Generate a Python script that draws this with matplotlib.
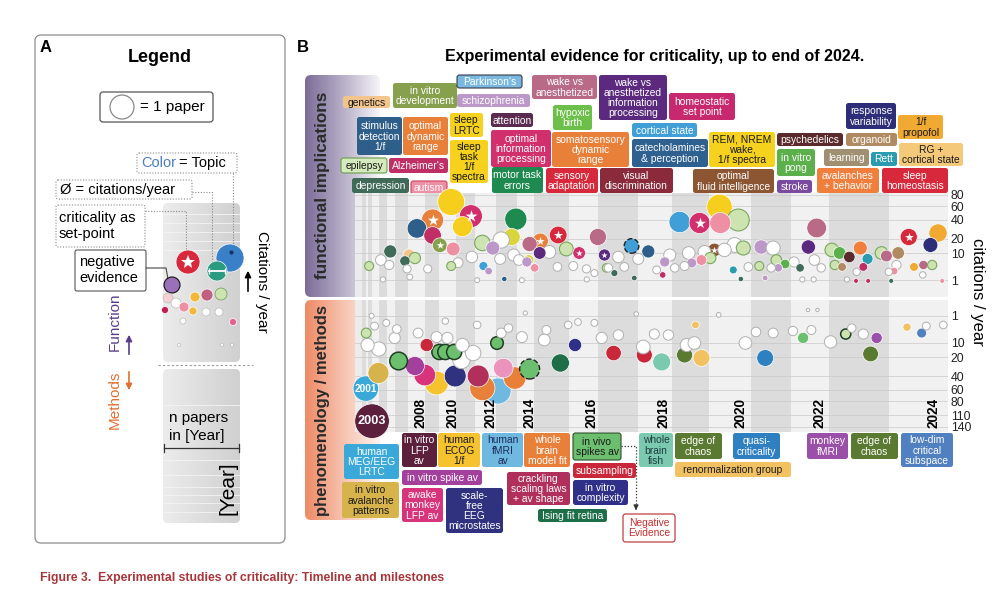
import numpy as np
import matplotlib
matplotlib.use("Agg")
import matplotlib.pyplot as plt
import matplotlib.transforms as mtransforms
from matplotlib.patches import FancyBboxPatch, Circle
from matplotlib.colors import LinearSegmentedColormap

plt.rcParams["font.family"] = ["Liberation Sans", "DejaVu Sans"]

# ---------------- data ----------------
years = list(range(2001, 2025))
# papers per year (sets the width of each year column)
n_papers = [2, 1, 2, 3, 4, 4, 6, 8, 7, 8, 9, 10, 10, 8, 17, 14, 19, 16, 18, 20, 19, 18, 29, 28]

# functional implications: publication date, citations / year, topic
fun_date = [2010.70, 2009.53, 2008.53, 2011.78, 2011.33, 2009.53, 2010.02, 2010.82, 2013.95, 2013.75,
            2006.38, 2008.06, 2008.41, 2007.75, 2003.20, 2012.35, 2012.85, 2014.76, 2015.19, 2015.69,
            2015.17, 2016.98, 2016.34, 2017.15, 2017.83, 2015.92, 2012.40, 2012.65, 2018.30, 2019.21,
            2019.74, 2020.24, 2020.26, 2020.69, 2020.12, 2020.81, 2021.25, 2022.68, 2022.46, 2023.05,
            2023.18, 2023.34, 2023.52, 2023.64, 2023.57, 2023.87, 2023.95, 2024.15, 2024.33, 2024.70,
            2024.83, 2024.42, 2024.58, 2024.73, 2018.79, 2019.53, 2019.79, 2020.02, 2020.57, 2018.73,
            2021.63, 2021.85, 2022.24, 2021.20, 2021.68, 2023.10, 2023.22, 2024.08, 2010.70, 2013.40,
            2015.03, 2014.70, 2014.60, 2017.20, 2017.40, 2017.90, 2020.75, 2021.35, 2023.45, 2023.65,
            2024.03, 2024.90]
fun_cit = [67, 40, 30, 45, 32, 23, 15, 12.5, 41, 21.6,
           11, 9, 7.5, 6.2, 4.3, 16.7, 13.1, 15.9, 18.2, 23.4,
           10.1, 21.6, 10.1, 9, 14.5, 12.5, 4.3, 2.8, 11, 37.4,
           36.2, 58.7, 36.2, 39.9, 11.9, 13.1, 13.8, 30.5, 13.8, 11.9,
           10.1, 8, 13.1, 7.1, 4, 10.1, 8.5, 10.1, 21.6, 15.2,
           25.3, 4, 4.65, 4.65, 5.8, 5.4, 6.6, 7.5, 3.1, 1.9,
           6.6, 5, 3.7, 4.3, 3.7, 4.65, 4, 2.8, 4.3, 1.17,
           3.7, 6.6, 5.8, 3.7, 2.3, 1.33, 1.17, 1.33, 0.9, 0.9,
           0.9, 0.9]
fun_topic = ['sleep', 'dyn_range', 'stim_det', 'info_proc', 'sleep', 'alzheimers', 'development', 'autism', 'motor', 'lrtc',
             'depression', 'genetics', 'epilepsy', 'depression', 'epilepsy', 'epilepsy', 'schizophrenia', 'anesthesia', 'dyn_range', 'sensory',
             'anesth_info', 'anesthesia', 'info_proc', 'anesth_info', 'cortical_state', 'epilepsy', 'cortical_state', 'schizophrenia', 'stim_det', 'cortical_state',
             'info_proc', 'sleep', 'autism', 'epilepsy', 'fluid_int', 'epilepsy', 'schizophrenia', 'anesthesia', 'anesth_info', 'epilepsy',
             'pong', 'psychedelics', 'behavior', 'rett', 'alzheimers', 'epilepsy', 'anesthesia', 'organoid', 'sensory', 'resp_var',
             'propofol', 'propofol', 'anesthesia', 'epilepsy', 'schizophrenia', 'schizophrenia', 'autism', 'epilepsy', 'rett', 'alzheimers',
             'epilepsy', 'pong', 'depression', 'epilepsy', 'schizophrenia', 'epilepsy', 'organoid', 'autism', 'epilepsy', 'stim_det',
             'autism', 'lrtc', 'schizophrenia', 'epilepsy', 'depression', 'depression', 'depression', 'schizophrenia', 'alzheimers', 'alzheimers',
             'depression', 'autism']
fun_setpoint = [1, 3, 6, 18, 19, 22, 23, 30, 34, 48]
fun_negative = [24]
fun_outlined = []
# papers of other topics (white)
fun_plain_date = [2005.25, 2006.25, 2007.92, 2011.83, 2013.20, 2013.85, 2014.12, 2015.44, 2015.67, 2016.14,
                  2016.59, 2016.86, 2017.25, 2017.50, 2018.00, 2017.65, 2018.94, 2019.45, 2019.87, 2020.36,
                  2020.60, 2020.93, 2019.34, 2019.08, 2022.08, 2022.62, 2022.80, 2024.12, 2023.99, 2024.57,
                  2023.46, 2021.50, 2018.55, 2013.25, 2021.55, 2005.50, 2012.10, 2014.30, 2016.60, 2022.30,
                  2022.60, 2023.30, 2008.10, 2009.20, 2011.10]
fun_plain_cit = [6.6, 4.65, 3.4, 8, 7.1, 9, 6.6, 10.7, 4, 4.3,
                 3.4, 2.3, 3.7, 8, 7.1, 4, 9, 10.1, 10.7, 11.9,
                 15.2, 4, 4.3, 3.7, 5.8, 6.6, 3.7, 4.65, 2.6, 1.9,
                 2.6, 3.7, 3.1, 19, 13.1, 1.1, 1.0, 1.0, 1.1, 1.1,
                 1.1, 1.1, 1.5, 3.4, 5.5]

# phenomenology / methods
met_date = [2001.90, 2003.90, 2004.95, 2007.25, 2008.41, 2009.00, 2009.80, 2010.94, 2009.13, 2010.00,
            2010.35, 2010.88, 2012.15, 2012.35, 2013.10, 2013.35, 2013.90, 2014.76, 2013.05, 2015.75,
            2016.20, 2017.38, 2018.18, 2018.70, 2019.34, 2019.79, 2021.35, 2022.32, 2023.28, 2023.79,
            2023.69, 2024.30, 2024.55, 2019.63, 2002.00]
met_cit = [58, 125, 36.2, 23.4, 28.3, 38.7, 49.5, 39.9, 11.25, 15.9,
           15.9, 15.9, 39.9, 57.1, 62, 30.5, 42.5, 31.6, 10.1, 25.3,
           11.25, 16.7, 18.2, 24.3, 18.2, 20.7, 20.7, 7.5, 5.8, 7.5,
           17.4, 3.4, 5.4, 2.8, 5.4]
met_topic = ['meg_lrtc', 'lfp', 'aval_patterns', 'invivo', 'spike_av', 'monkey_lfp', 'ecog', 'microstates', 'subsampling', 'invivo',
             'invivo', 'invivo', 'crackling', 'model_fit', 'fmri', 'scaling', 'model_fit', 'invivo', 'invivo', 'ising',
             'complexity', 'subsampling', 'subsampling', 'fish', 'chaos', 'rg', 'quasi', 'invivo', 'invivo_light', 'monkey_fmri',
             'chaos', 'rg', 'subspace', 'rg', 'invivo_light']
met_setpoint = []
met_negative = [17]
met_outlined = [3, 9, 10, 11, 18, 28]
met_year_marker = [0, 1]
met_plain_date = [2002.67, 2005.00, 2006.90, 2008.60, 2009.80, 2010.47, 2011.33, 2011.90, 2011.28, 2013.25,
                  2013.60, 2014.30, 2015.30, 2015.36, 2015.97, 2017.08, 2017.50, 2018.15, 2018.48, 2018.90,
                  2019.40, 2019.60, 2020.86, 2021.12, 2021.55, 2022.05, 2022.54, 2023.03, 2023.38, 2023.57,
                  2024.63, 2024.92, 2003.80, 2005.90, 2004.33, 2007.10, 2010.35, 2012.10, 2014.50, 2016.30,
                  2016.86, 2017.95, 2020.22, 2022.45, 2022.70]
met_plain_cit = [11.25, 13.8, 7.5, 5.4, 7.1, 7.5, 11.25, 16.7, 22.5, 5.4,
                 3.7, 7.1, 8.5, 4.3, 2.8, 7.5, 6.2, 12.5, 5.8, 6.2,
                 11.25, 10.1, 10.1, 5, 5.4, 4.65, 4.3, 9.5, 3.7, 5.8,
                 3.1, 2.8, 1.0, 2.3, 3.1, 4, 1.9, 2.8, 0.65, 2.1,
                 2.3, 0.76, 0.87, 0.37, 0.37]

fun_ticks = [1, 10, 20, 40, 60, 80]
met_ticks = [1, 10, 20, 40, 60, 80, 110, 140]

TOPIC_COLORS = {
    'sleep': '#f6cf1e', 'dyn_range': '#e8803a', 'stim_det': '#2d5f8a', 'info_proc': '#d1306c',
    'alzheimers': '#bf2f66', 'development': '#87a04e', 'autism': '#ee8fa3', 'motor': '#1f8a4f',
    'lrtc': '#d8d63c', 'depression': '#3f6b58', 'genetics': '#f3c58c', 'epilepsy': '#cde4b0',
    'schizophrenia': '#bc98c9', 'anesthesia': '#b86a87', 'sensory': '#d8283b', 'anesth_info': '#5b2a7e',
    'cortical_state': '#3f9fd6', 'fluid_int': '#8b5631', 'pong': '#5bb04b', 'psychedelics': '#5a2a2c',
    'behavior': '#f07f3e', 'rett': '#2b9bb0', 'organoid': '#b08b62', 'resp_var': '#2e2e78',
    'propofol': '#f1aa31',
    'meg_lrtc': '#3aa8d8', 'lfp': '#5c1f3c', 'aval_patterns': '#d7b44b', 'invivo': '#6dbf70',
    'spike_av': '#a3409c', 'monkey_lfp': '#d8347b', 'ecog': '#f6c22e', 'microstates': '#30317f',
    'subsampling': '#c9283a', 'crackling': '#b1305b', 'model_fit': '#e8803a', 'fmri': '#6fb8e0',
    'scaling': '#eb92bd', 'ising': '#1e6e48', 'complexity': '#303088', 'fish': '#7bcab0',
    'chaos': '#5a7a31', 'rg': '#f1c162', 'quasi': '#2e80c0', 'invivo_light': '#cde4b0',
    'monkey_fmri': '#9a50a8', 'subspace': '#5080c0',
}
LIGHT_TOPICS = ['epilepsy', 'invivo_light']

# topic tags (layout in pixels)
TOP_TAGS = [
    ("genetics", '#f3c58c', (343, 96, 390, 108), 'k'),
    ("in vitro\ndevelopment", '#87a04e', (393, 83, 457, 108), 'w'),
    ("Parkinson's", '#7ab8e0', (457, 75, 522, 88), 'w'),
    ("schizophrenia", '#bc98c9', (457, 94, 530, 107), 'w'),
    ("wake vs\nanesthetized", '#b86a87', (532, 75, 597, 99), 'w'),
    ("wake vs\nanesthetized\ninformation\nprocessing", '#5b2a7e', (599, 75, 667, 120), 'w'),
    ("homeostatic\nset point", '#c8286e', (669, 93, 735, 120), 'w'),
    ("hypoxic\nbirth", '#6cc04a', (553, 105, 592, 130), 'w'),
    ("stimulus\ndetection\n1/f", '#2d5f8a', (357, 117, 402, 155), 'w'),
    ("optimal\ndynamic\nrange", '#e8803a', (403, 117, 448, 155), 'w'),
    ("sleep\nLRTC", '#f6d21e', (450, 113, 483, 137), 'k'),
    ("attention", '#5a2a50', (491, 113, 533, 127), 'w'),
    ("optimal\ninformation\nprocessing", '#d1306c', (491, 130, 551, 167), 'w'),
    ("somatosensory\ndynamic\nrange", '#e8803a', (552, 132, 629, 167), 'w'),
    ("cortical state", '#3f9fd6', (632, 123, 697, 137), 'w'),
    ("catecholamines\n& perception", '#2e6090', (632, 139, 708, 167), 'w'),
    ("sleep\ntask\n1/f\nspectra", '#f6d21e', (450, 140, 488, 183), 'k'),
    ("epilepsy", '#d6ebbd', (341, 158, 387, 173), 'k'),
    ("Alzheimer's", '#bf2f66', (389, 158, 448, 173), 'w'),
    ("depression", '#3f6b58', (352, 178, 409, 193), 'w'),
    ("autism", '#ee8fa3', (411, 181, 447, 194), 'w'),
    ("motor task\nerrors", '#1f8a4f', (492, 167, 543, 193), 'w'),
    ("sensory\nadaptation", '#d8283b', (546, 168, 598, 193), 'w'),
    ("visual\ndiscrimination", '#8a2a3a', (600, 168, 673, 193), 'w'),
    ("REM, NREM\nwake,\n1/f spectra", '#f6d21e', (709, 132, 775, 167), 'k'),
    ("optimal\nfluid intelligence", '#8b5631', (693, 169, 774, 193), 'w'),
    ("psychedelics", '#5a2a2c', (777, 133, 843, 146), 'w'),
    ("in vitro\npong", '#5bb04b', (777, 149, 815, 176), 'w'),
    ("stroke", '#7a4aa0', (777, 180, 812, 193), 'w'),
    ("response\nvariability", '#2e2e78', (846, 103, 896, 129), 'w'),
    ("organoid", '#b08b62', (846, 133, 897, 146), 'w'),
    ("learning", '#a09072', (824, 149, 869, 166), 'w'),
    ("Rett", '#2b9bb0', (871, 152, 897, 166), 'w'),
    ("avalanches\n+ behavior", '#f07f3e', (817, 168, 879, 193), 'w'),
    ("1/f\npropofol", '#f1aa31', (898, 115, 943, 139), 'k'),
    ("RG +\ncortical state", '#f4c97a', (899, 143, 963, 166), 'k'),
    ("sleep\nhomeostasis", '#d8283b', (882, 168, 948, 193), 'w'),
]
BOTTOM_TAGS = [
    ("human\nMEG/EEG\nLRTC", '#3aa8d8', (344, 444, 399, 479), 'w'),
    ("in vitro\navalanche\npatterns", '#d7b44b', (342, 482, 399, 518), 'k'),
    ("in vitro\nLFP\nav", '#5c1f3c', (402, 433, 437, 467), 'w'),
    ("human\nECOG\n1/f", '#f6c22e', (438, 433, 480, 467), 'k'),
    ("human\nfMRI\nav", '#6fb8e0', (482, 433, 523, 467), '#1d2d5d'),
    ("whole\nbrain\nmodel fit", '#e8803a', (524, 433, 570, 467), 'w'),
    ("in vivo\nspikes av", '#6dbf70', (573, 433, 621, 460), 'k'),
    ("in vitro spike av", '#a3409c', (402, 470, 482, 485), 'w'),
    ("awake\nmonkey\nLFP av", '#d8347b', (402, 488, 443, 522), 'w'),
    ("scale-\nfree\nEEG\nmicrostates", '#30317f', (446, 488, 503, 533), 'w'),
    ("crackling\nscaling laws\n+ av shape", '#b1305b', (507, 472, 570, 505), 'w'),
    ("subsampling", '#c9283a', (573, 463, 636, 478), 'w'),
    ("in vitro\ncomplexity", '#303088', (573, 480, 628, 505), 'w'),
    ("Ising fit retina", '#1e6e48', (538, 509, 607, 522), 'w'),
    ("whole\nbrain\nfish", '#7bcab0', (639, 433, 673, 467), '#1d3d3d'),
    ("edge of\nchaos", '#5a7a31', (675, 433, 722, 459), 'w'),
    ("renormalization group", '#f1c162', (675, 462, 791, 477), 'k'),
    ("quasi-\ncriticality", '#2e80c0', (733, 433, 780, 459), 'w'),
    ("monkey\nfMRI", '#9a50a8', (807, 433, 848, 459), 'w'),
    ("edge of\nchaos", '#5a7a31', (851, 433, 898, 459), 'w'),
    ("low-dim\ncritical\nsubspace", '#5080c0', (901, 433, 953, 467), 'w'),
]
TAG_EDGES = {"Parkinson's": '#3a3a4a', "epilepsy": '#6a9a50', "autism": '#d04060',
             "in vivo\nspikes av": '#2b4b2b'}

# ---------------- figure ----------------
fig = plt.figure(figsize=(10, 5.92), dpi=100)
lay = fig.add_axes([0, 0, 1, 1])
lay.set_xlim(0, 1000)
lay.set_ylim(592, 0)
lay.axis("off")


def rbox(x0, y0, x1, y1, fc, ec="none", lw=0.0, r=2.5, ls="-", z=1):
    p = FancyBboxPatch((x0, y0), x1 - x0, y1 - y0,
                       boxstyle=f"round,pad=0,rounding_size={r}",
                       fc=fc, ec=ec, lw=lw, ls=ls, zorder=z)
    lay.add_patch(p)
    return p


def gradient(x0, y0, x1, y1, colors, r=6):
    cmap = LinearSegmentedColormap.from_list("g", colors)
    im = lay.imshow(np.linspace(0, 1, 256).reshape(1, -1), cmap=cmap,
                    extent=(x0, x1, y1, y0), aspect="auto", zorder=0.5)
    clip = rbox(x0, y0, x1, y1, "none", r=r, z=0.4)
    im.set_clip_path(clip)


def tag(text, fc, box, tc):
    x0, y0, x1, y1 = box
    ec = TAG_EDGES.get(text)
    rbox(x0, y0, x1, y1, fc, ec=ec if ec else "none", lw=0.8 if ec else 0, z=2)
    tcol = {'w': 'white', 'k': '#1a1a1a'}.get(tc, tc)
    lay.text((x0 + x1) / 2, (y0 + y1) / 2 + 0.5, text, ha="center", va="center",
             fontsize=7.4, color=tcol, linespacing=1.02, zorder=3)


# ---- panel A: legend ----
rbox(35, 35, 285, 543, "white", ec="#8c8c8c", lw=0.9, r=6, z=0.2)
lay.text(40, 47, "A", fontsize=12, fontweight="bold", va="center")
lay.text(160, 58, "Legend", fontsize=13, fontweight="bold", ha="center", va="center")
rbox(100, 92, 213, 122, "white", ec="#555555", lw=0.9, r=3)
lay.add_patch(Circle((122, 107), 12, fc="white", ec="#888888", lw=0.9, zorder=2))
lay.text(140, 107, "= 1 paper", fontsize=11, va="center", zorder=3)

gradient(163, 203, 240, 362, ["#ececec", "#d0d0d0"], r=5)
gradient(163, 369, 240, 523, ["#ececec", "#d0d0d0"], r=5)
for yy in [214, 223, 232, 241, 250, 405, 460, 475, 487, 495, 503, 512]:
    lay.plot([163, 240], [yy, yy], color="#f4f4f4", lw=0.6, zorder=0.6)
lay.plot([158, 253], [365, 365], color="#999999", lw=0.8, ls=(0, (2, 2)), zorder=1)

for (cx, cy, r, fc, ec) in [(230, 258, 14, "#3a80c8", "white"), (188, 262, 12, "#d8283b", "white"),
                            (217, 271, 10, "#2a9a80", "white"), (172, 285, 8, "#9a70b8", "#111111"),
                            (221, 294, 6, "#cde4b0", "#6a9a50"), (207, 295, 6, "#c06080", "white"),
                            (195, 297, 5, "#f1b83a", "white"), (168, 298, 5, "#f4d0d6", "#bbbbbb"),
                            (176, 303, 5, "white", "#bbbbbb"), (184, 307, 5, "#ee8fa3", "white"),
                            (193, 311, 4, "#f1b83a", "white"), (206, 312, 4, "white", "#bbbbbb"),
                            (219, 312, 4, "white", "#bbbbbb"), (233, 322, 3.5, "#e06090", "white"),
                            (165, 310, 3.5, "#c02050", "white"), (183, 321, 3, "white", "#bbbbbb"),
                            (179, 345, 1.5, "white", "#bbbbbb"), (222, 345, 1.5, "white", "#bbbbbb"),
                            (232, 345, 1.5, "white", "#bbbbbb")]:
    lay.add_patch(Circle((cx, cy), r, fc=fc, ec=ec, lw=0.8 if ec == "#111111" else 0.5, zorder=2))
lay.plot(188, 262, marker="*", ms=10, color="white", mew=0, zorder=3)
lay.plot([209, 225], [271, 271], color="white", lw=1.3, zorder=3)
lay.plot([209, 225], [271, 271], ls="none", marker="|", ms=5, color="white", zorder=3)
lay.plot(231, 252, marker="o", ms=2, color="#1a3060", zorder=3)

dot = dict(color="#8a8a8a", lw=0.8, ls=(0, (1, 1.5)), zorder=1.5)
rbox(137, 153, 237, 173, "white", ec="#8a8a8a", lw=0.8, ls=(0, (1, 1.5)), r=2)
lay.text(141, 163, "Color", fontsize=10.5, color="#4a7fc0", va="center", zorder=3)
lay.text(179, 163, "= Topic", fontsize=10.5, va="center", zorder=3)
lay.plot([233, 233], [173, 246], **dot)
rbox(56, 180, 192, 199, "white", ec="#8a8a8a", lw=0.8, ls=(0, (1, 1.5)), r=2)
lay.text(60, 190, "Ø = citations/year", fontsize=10.5, va="center", zorder=3)
lay.plot([192, 212, 212], [192, 192, 262], **dot)
rbox(56, 205, 145, 247, "white", ec="#8a8a8a", lw=0.8, ls=(0, (1, 1.5)), r=2)
lay.text(59, 226, "criticality as\nset-point", fontsize=10.5, va="center", linespacing=1.15, zorder=3)
lay.plot([145, 186, 186], [211, 211, 250], **dot)
rbox(75, 250, 146, 291, "white", ec="#555555", lw=0.8, r=2)
lay.text(79, 270, "negative\nevidence", fontsize=10.5, va="center", linespacing=1.15, zorder=3)
lay.plot([146, 166, 168], [268, 268, 279], color="#444444", lw=0.8, zorder=1.5)

lay.text(262, 282, "Citations / year", rotation=270, fontsize=11, ha="center", va="center")
lay.annotate("", xy=(248, 268), xytext=(248, 294),
             arrowprops=dict(arrowstyle="-|>", color="black", lw=1.2, mutation_scale=9))
lay.text(115, 322, "Function", rotation=90, fontsize=11, color="#5a3d8a", ha="center", va="center")
lay.annotate("", xy=(129, 332), xytext=(129, 357),
             arrowprops=dict(arrowstyle="-|>", color="#5a3d8a", lw=1.2, mutation_scale=9))
lay.text(115, 400, "Methods", rotation=90, fontsize=11, color="#e07030", ha="center", va="center")
lay.annotate("", xy=(129, 393), xytext=(129, 369),
             arrowprops=dict(arrowstyle="-|>", color="#e07030", lw=1.2, mutation_scale=9))
lay.text(169, 427, "n papers\nin [Year]", fontsize=11, va="center", linespacing=1.3, zorder=3)
lay.plot([164, 239], [448, 448], color="#333333", lw=0.9, zorder=3)
lay.plot([164, 164], [444, 452], color="#333333", lw=0.9, zorder=3)
lay.plot([239, 239], [444, 452], color="#333333", lw=0.9, zorder=3)
lay.text(228, 488, "[Year]", rotation=90, fontsize=15, ha="center", va="center", zorder=3)

# ---- panel B frame ----
lay.text(297, 47, "B", fontsize=12, fontweight="bold", va="center")
lay.text(655, 57, "Experimental evidence for criticality, up to end of 2024.",
         fontsize=11.5, fontweight="bold", ha="center", va="center")
gradient(305, 75, 380, 297, ["#7b6c97", "#b7aec7", "#f6f5f8"], r=6)
gradient(305, 300, 380, 520, ["#ee8a66", "#f6c2ae", "#fdf3ee"], r=6)
lay.text(323, 185, "functional implications", rotation=90, fontsize=12.3,
         fontweight="bold", color="#2a2a2a", ha="center", va="center", zorder=3)
lay.text(323, 410, "phenomenology / methods", rotation=90, fontsize=12,
         fontweight="bold", color="#2a2a2a", ha="center", va="center", zorder=3)

for t in TOP_TAGS + BOTTOM_TAGS:
    tag(*t)
rbox(623, 514, 675, 542, "white", ec="#c04040", lw=0.9, r=2.5, z=2)
lay.text(649, 528, "Negative\nEvidence", fontsize=7.4, color="#c03030", ha="center",
         va="center", linespacing=1.02, zorder=3)
lay.plot([621, 636, 636], [446, 446, 506], color="#333333", lw=0.9, ls=(0, (1, 1.5)), zorder=1.5)
lay.annotate("", xy=(636, 513), xytext=(636, 505),
             arrowprops=dict(arrowstyle="-|>", color="#333333", lw=0.9, mutation_scale=7))

lay.text(977, 292, "citations / year", rotation=270, fontsize=12, ha="center", va="center")
lay.text(40, 578, "Figure 3.  Experimental studies of criticality: Timeline and milestones",
         fontsize=8.8, fontweight="bold", color="#a8353a", va="center")

# ---- panel B timeline axes ----
starts = np.concatenate([[0], np.cumsum(n_papers)[:-1]])
x_left = -(362 - 355) / 2.09
ZERO_PX = 298.0      # pixel row of 0 citations (shared by both halves)
PX_PER_UNIT = 17.85  # pixels per unit of citations**0.4


def date_to_x(d):
    yr = int(d)
    i = yr - years[0]
    return starts[i] + (d - yr) * n_papers[i]


def fwd(c):
    return np.sign(c) * np.abs(c) ** 0.4


def inv(s):
    return np.sign(s) * np.abs(s) ** 2.5


ax_f = fig.add_axes([0.355, 1 - 297 / 592, 0.593, 104 / 592])
ax_m = fig.add_axes([0.355, 1 - 432 / 592, 0.593, 132 / 592])


def setup(ax, ticks):
    ax.set_facecolor("none")
    ax.set_yscale("function", functions=(fwd, inv))
    ax.set_xlim(x_left, sum(n_papers))
    ax.axvspan(x_left, 0, color="#ececec", lw=0, zorder=0)
    for i, yr in enumerate(years):
        ax.axvspan(starts[i], starts[i] + n_papers[i],
                   color="#f1f1f1" if yr % 2 == 0 else "#dcdcdc", lw=0, zorder=0)
    for t in ticks:
        ax.axhline(t, color="#c9c9c9", lw=0.5, zorder=0.5)
    for s in ax.spines.values():
        s.set_visible(False)
    ax.set_xticks([])
    ax.yaxis.tick_right()
    ax.set_yticks(ticks)
    ax.set_yticklabels([str(t) for t in ticks])
    ax.tick_params(axis="y", length=0, pad=2, labelsize=8.8, labelcolor="#222222")
    ax.minorticks_off()


def draw_half(ax, date, cit, topic, plain_date, plain_cit, setpoint, negative, outlined):
    xs = np.array([date_to_x(d) for d in date] + [date_to_x(d) for d in plain_date])
    cs = np.array(list(cit) + list(plain_cit), dtype=float)
    sizes = 13.0 * cs ** 0.8
    fcs, ecs, lws = [], [], []
    for i, t in enumerate(topic):
        fcs.append(TOPIC_COLORS[t])
        if i in outlined:
            ecs.append("#1f3f22"); lws.append(1.1)
        elif i in negative:
            ecs.append("none"); lws.append(0)
        elif t in LIGHT_TOPICS:
            ecs.append("#7aa860"); lws.append(0.8)
        else:
            ecs.append("white"); lws.append(0.5)
    for _ in plain_date:
        fcs.append("white"); ecs.append("#b0b0b0"); lws.append(0.7)
    order = np.argsort(-cs, kind="stable")
    ax.scatter(xs[order], cs[order], s=sizes[order], c=[fcs[k] for k in order],
               edgecolors=[ecs[k] for k in order], linewidths=[lws[k] for k in order],
               zorder=3, clip_on=False)
    for i in negative:
        ax.scatter([xs[i]], [cs[i]], s=sizes[i], facecolors="none", edgecolors="#222222",
                   linewidths=1.0, linestyles="--", zorder=4, clip_on=False)
    for i in setpoint:
        ax.scatter([xs[i]], [cs[i]], s=0.3 * sizes[i], marker="*", c="white", linewidths=0,
                   zorder=5, clip_on=False)
    return xs, cs


setup(ax_f, fun_ticks)
ax_f.set_ylim(inv((ZERO_PX - 297) / PX_PER_UNIT), inv((ZERO_PX - 193) / PX_PER_UNIT))
draw_half(ax_f, fun_date, fun_cit, fun_topic, fun_plain_date, fun_plain_cit,
          fun_setpoint, fun_negative, fun_outlined)

setup(ax_m, met_ticks)
ax_m.set_ylim(inv((432 - ZERO_PX) / PX_PER_UNIT), inv((300 - ZERO_PX) / PX_PER_UNIT))
mx, mc = draw_half(ax_m, met_date, met_cit, met_topic, met_plain_date, met_plain_cit,
                   met_setpoint, met_negative, met_outlined)
for i in met_year_marker:
    ax_m.text(mx[i], mc[i], str(int(met_date[i])), color="white", fontweight="bold",
              fontsize=7.2 if mc[i] < 100 else 9.2, ha="center", va="center", zorder=6, clip_on=False)

trans = mtransforms.blended_transform_factory(ax_m.transData, ax_m.transAxes)
for i, yr in enumerate(years):
    if yr % 2 == 0 and yr >= 2008:
        ax_m.text(starts[i] + 0.75 * n_papers[i], 0.145, str(yr), transform=trans, rotation=90,
                  fontsize=9.8, fontweight="bold", ha="center", va="center", zorder=6)

fig.savefig("out.png", dpi=100)
